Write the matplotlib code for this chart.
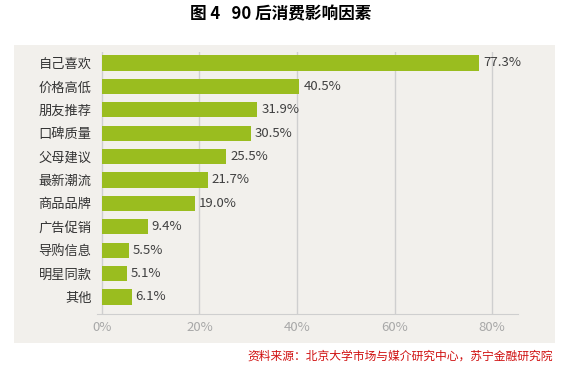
import matplotlib
matplotlib.use("Agg")
import matplotlib.pyplot as plt
from matplotlib.patches import Rectangle

plt.rcParams['font.family'] = ['Noto Sans CJK SC', 'DejaVu Sans']

# data
categories = ["自己喜欢", "价格高低", "朋友推荐", "口碑质量", "父母建议", "最新潮流",
              "商品品牌", "广告促销", "导购信息", "明星同款", "其他"]
values = [77.3, 40.5, 31.9, 30.5, 25.5, 21.7, 19.0, 9.4, 5.5, 5.1, 6.1]
xticks = [0, 20, 40, 60, 80]
xtick_labels = ["0%", "20%", "40%", "60%", "80%"]

W, H = 562, 369
fig = plt.figure(figsize=(W / 100, H / 100), dpi=100)
fig.patch.set_facecolor("white")

# light grey panel behind the chart
fig.patches.append(Rectangle((14 / W, 1 - 343 / H), (555 - 14) / W, (343 - 45) / H,
                             transform=fig.transFigure, facecolor="#f2f0ec",
                             edgecolor="none", zorder=-1))

ax = fig.add_axes([97 / W, 1 - 314 / H, (518 - 97) / W, (314 - 52) / H])
ax.set_facecolor("none")
ax.set_zorder(1)

pos = list(range(len(categories)))
ax.barh(pos, values, height=0.65, color="#9abd1f", zorder=3)
for p, v in zip(pos, values):
    ax.text(v + 0.8, p, f"{v:.1f}%", va="center", ha="left", fontsize=9.5,
            color="#404040", zorder=4)

ax.set_xlim(-1, 85.3)
ax.set_ylim(10.73, -0.47)
ax.set_yticks(pos)
ax.set_yticklabels(categories, fontsize=9.5, color="#333333")
ax.set_xticks(xticks)
ax.set_xticklabels(xtick_labels, fontsize=9.5, color="#a8a8a8")
ax.tick_params(length=0)
ax.tick_params(axis="y", pad=4)
ax.tick_params(axis="x", pad=5)
ax.grid(axis="x", color="#cfcfcf", linewidth=1, zorder=1)
for s in ["top", "right", "left"]:
    ax.spines[s].set_visible(False)
ax.spines["bottom"].set_color("#cfcfcf")

fig.text(0.5, 1 - 14 / H, "图 4   90 后消费影响因素", ha="center", va="center",
         fontsize=12, fontweight="bold", color="black")
fig.text(553 / W, 1 - 356 / H, "资料来源：北京大学市场与媒介研究中心，苏宁金融研究院",
         ha="right", va="center", fontsize=8.5, color="#d01010", style="italic")

fig.savefig("out.png", dpi=100)
